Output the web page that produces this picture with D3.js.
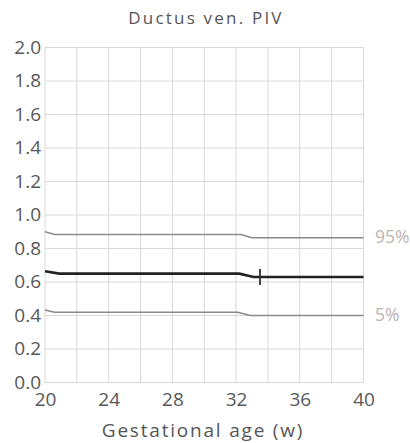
<!DOCTYPE html>
<html>
<head>
<meta charset="utf-8">
<script src="https://cdn.jsdelivr.net/npm/d3@7"></script>
<style>
  html, body { margin: 0; padding: 0; background: #fff; }
  svg { display: block; }
  text { font-family: "Open Sans", "Noto Sans", sans-serif; }
</style>
</head>
<body>
<svg id="chart" width="410" height="443"></svg>
<script>
// Reference curves for ductus venosus pulsatility index by gestational age
const weeks = [20, 20.6, 32.3, 33.0, 40];
const p95 = [0.900, 0.884, 0.884, 0.864, 0.864];
const medianWeeks = [20, 20.9, 32.2, 33.1, 40];
const p50 = [0.664, 0.650, 0.650, 0.630, 0.630];
const p5Weeks = [20, 20.6, 32.1, 32.9, 40];
const p5 = [0.433, 0.419, 0.419, 0.400, 0.400];
const measurement = { week: 33.5, value: 0.63 };
const xTicks = [20, 24, 28, 32, 36, 40];
const yTicks = [0, 0.2, 0.4, 0.6, 0.8, 1.0, 1.2, 1.4, 1.6, 1.8, 2.0];
const xGrid = [20, 22, 24, 26, 28, 30, 32, 34, 36, 38, 40];

const svg = d3.select("#chart");
const x = d3.scaleLinear().domain([20, 40]).range([45, 363.5]);
const y = d3.scaleLinear().domain([0, 2]).range([382.5, 47.5]);

// grid
const grid = svg.append("g").attr("stroke", "#d8d8d8").attr("stroke-width", 1);
grid.selectAll("line.h").data(yTicks).join("line")
  .attr("x1", x(20)).attr("x2", x(40))
  .attr("y1", d => y(d)).attr("y2", d => y(d));
grid.selectAll("line.v").data(xGrid).join("line")
  .attr("y1", y(0)).attr("y2", y(2))
  .attr("x1", d => x(d)).attr("x2", d => x(d));

// axes (labels only)
const yAxis = svg.append("g").attr("transform", `translate(${x(20)},0)`)
  .call(d3.axisLeft(y).tickValues(yTicks).tickFormat(d3.format(".1f")).tickSize(0).tickPadding(4));
yAxis.select(".domain").remove();
yAxis.selectAll("text").attr("font-size", 19).attr("fill", "#585858").attr("dy", "0.3em");

const xAxis = svg.append("g").attr("transform", `translate(0,${y(0)})`)
  .call(d3.axisBottom(x).tickValues(xTicks).tickSize(0).tickPadding(10));
xAxis.select(".domain").remove();
xAxis.selectAll("text").attr("font-size", 19).attr("fill", "#585858");

// curves
const line = d3.line().x(d => x(d[0])).y(d => y(d[1]));
svg.append("path").datum(d3.zip(weeks, p95)).attr("d", line)
  .attr("fill", "none").attr("stroke", "#8a8a8a").attr("stroke-width", 1.6);
svg.append("path").datum(d3.zip(p5Weeks, p5)).attr("d", line)
  .attr("fill", "none").attr("stroke", "#8a8a8a").attr("stroke-width", 1.6);
svg.append("path").datum(d3.zip(medianWeeks, p50)).attr("d", line)
  .attr("fill", "none").attr("stroke", "#222").attr("stroke-width", 2.6);

// measurement marker
svg.append("line")
  .attr("x1", x(measurement.week)).attr("x2", x(measurement.week))
  .attr("y1", y(measurement.value) - 8).attr("y2", y(measurement.value) + 8)
  .attr("stroke", "#333").attr("stroke-width", 1.8);

// percentile labels
svg.append("text").attr("x", 375).attr("y", y(p95[p95.length - 1]) - 1).attr("dy", "0.35em")
  .attr("font-size", 17.5).attr("fill", "#bdb4b4").text("95%");
svg.append("text").attr("x", 375).attr("y", y(p5[p5.length - 1]) - 1).attr("dy", "0.35em")
  .attr("font-size", 17.5).attr("fill", "#bdb4b4").text("5%");

// title and axis title
svg.append("text").attr("x", 206).attr("y", 24).attr("text-anchor", "middle")
  .attr("font-size", 17).attr("letter-spacing", 2.2).attr("fill", "#555").text("Ductus ven. PIV");
svg.append("text").attr("x", 203).attr("y", 437).attr("text-anchor", "middle")
  .attr("font-size", 19).attr("letter-spacing", 1.8).attr("fill", "#555").text("Gestational age (w)");
</script>
</body>
</html>
